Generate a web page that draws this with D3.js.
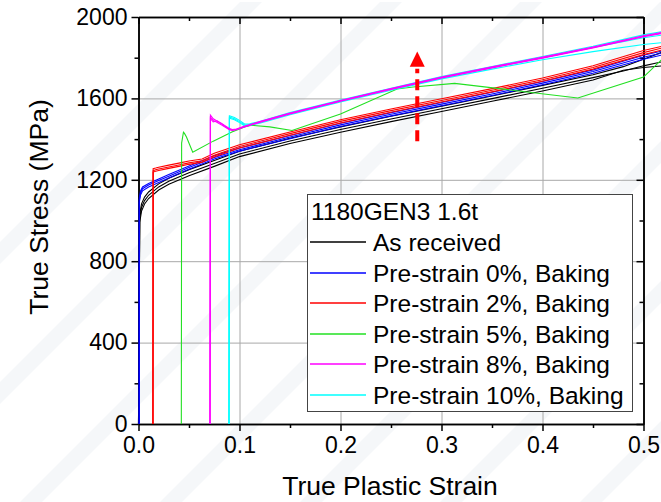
<!DOCTYPE html>
<html>
<head>
<meta charset="utf-8">
<script src="https://cdn.jsdelivr.net/npm/d3@7"></script>
<style>
  body { margin: 0; background: #fff; }
  svg { display: block; font-family: "Liberation Sans", Arial, sans-serif; }
  .grid line { stroke: #a8a8a8; stroke-width: 1; }
  .grid path { display: none; }
  .axis path, .axis line { stroke: #000; stroke-width: 1.5; }
  .axis text { fill: #000; }
</style>
</head>
<body>
<svg width="661" height="502"></svg>
<script>
// tick values
const xTicks = [0, 0.1, 0.2, 0.3, 0.4, 0.5];
const xMinor = [0.05, 0.15, 0.25, 0.35, 0.45];
const yTicks = [0, 400, 800, 1200, 1600, 2000];
const yMinor = [200, 600, 1000, 1400, 1800];

// As received (black)
const blackStrain = [0, 0.0012, 0.003, 0.006, 0.01, 0.02, 0.03, 0.05, 0.075, 0.1, 0.15, 0.2, 0.25, 0.3, 0.35, 0.4, 0.45, 0.48, 0.5, 0.52];
const black1 = [0, 1030, 1082, 1115, 1140, 1180, 1208, 1250, 1295, 1340, 1404, 1460, 1512, 1562, 1612, 1664, 1716, 1756, 1792, 1830];
const black2 = [0, 1010, 1064, 1098, 1124, 1165, 1193, 1235, 1280, 1327, 1391, 1447, 1499, 1549, 1599, 1650, 1702, 1735, 1760, 1782];
const black3 = [0, 990, 1046, 1081, 1108, 1150, 1178, 1220, 1266, 1314, 1378, 1434, 1486, 1536, 1586, 1636, 1690, 1738, 1752, 1760];

// Pre-strain 0%, Baking (blue)
const blueStrain = [0.0007, 0.0008, 0.002, 0.004, 0.01, 0.02, 0.03, 0.05, 0.075, 0.1, 0.15, 0.2, 0.25, 0.3, 0.35, 0.4, 0.45, 0.5, 0.52];
const blue1 = [0, 1110, 1145, 1165, 1182, 1204, 1226, 1268, 1318, 1356, 1418, 1478, 1530, 1580, 1630, 1683, 1740, 1812, 1835];
const blue2 = [0, 1100, 1135, 1156, 1174, 1196, 1218, 1260, 1310, 1348, 1410, 1470, 1522, 1572, 1622, 1675, 1732, 1802, 1825];
const blue3 = [0, 1090, 1125, 1146, 1165, 1187, 1209, 1252, 1302, 1341, 1402, 1462, 1514, 1564, 1614, 1667, 1724, 1792, 1815];

// Pre-strain 2%, Baking (red)
const redStrain = [0.0143, 0.0145, 0.017, 0.02, 0.03, 0.04, 0.05, 0.063, 0.075, 0.1, 0.15, 0.2, 0.25, 0.3, 0.35, 0.4, 0.45, 0.5, 0.52];
const red1 = [0, 1255, 1258, 1262, 1272, 1282, 1292, 1302, 1330, 1372, 1435, 1495, 1548, 1598, 1648, 1700, 1760, 1835, 1858];
const red2 = [0, 1245, 1249, 1253, 1263, 1273, 1283, 1294, 1320, 1364, 1427, 1487, 1540, 1590, 1640, 1692, 1752, 1825, 1850];
const red3 = [0, 1238, 1242, 1246, 1256, 1266, 1276, 1287, 1312, 1356, 1419, 1479, 1532, 1582, 1632, 1684, 1744, 1815, 1840];

// Pre-strain 5%, Baking (green)
const greenStrain = [0.0424, 0.0427, 0.0445, 0.0455, 0.0475, 0.0537, 0.074, 0.0925, 0.105, 0.112, 0.13, 0.152, 0.2, 0.256, 0.272, 0.313, 0.435, 0.5, 0.52];
const green1 = [0, 1380, 1434, 1428, 1410, 1335, 1390, 1435, 1460, 1468, 1460, 1442, 1523, 1646, 1656, 1674, 1602, 1705, 1800];

// Pre-strain 8%, Baking (magenta)
const magentaStrain = [0.0708, 0.0712, 0.074, 0.078, 0.082, 0.086, 0.09, 0.093, 0.097, 0.104, 0.12, 0.15, 0.2, 0.25, 0.3, 0.35, 0.4, 0.45, 0.5, 0.52];
const magenta1 = [0, 1518, 1500, 1488, 1478, 1465, 1452, 1447, 1450, 1462, 1486, 1528, 1590, 1648, 1705, 1755, 1803, 1853, 1908, 1926];
const magenta2 = [0, 1508, 1492, 1482, 1470, 1458, 1446, 1442, 1446, 1458, 1482, 1524, 1586, 1644, 1700, 1750, 1798, 1848, 1903, 1920];
const magenta3 = [0, 1500, 1485, 1490, 1475, 1462, 1449, 1444, 1448, 1460, 1484, 1526, 1588, 1646, 1702, 1752, 1800, 1850, 1905, 1923];

// Pre-strain 10%, Baking (cyan)
const cyanStrain = [0.0896, 0.09, 0.095, 0.1, 0.105, 0.11, 0.12, 0.15, 0.2, 0.25, 0.3, 0.35, 0.4, 0.45, 0.5, 0.52];
const cyan1 = [0, 1515, 1506, 1492, 1474, 1475, 1486, 1530, 1592, 1650, 1707, 1757, 1806, 1856, 1912, 1930];
const cyan2 = [0, 1508, 1500, 1486, 1469, 1471, 1482, 1525, 1587, 1645, 1702, 1752, 1800, 1850, 1898, 1912];
const cyan3 = [0, 1502, 1495, 1481, 1465, 1467, 1478, 1520, 1582, 1640, 1696, 1744, 1790, 1830, 1865, 1875];

// dashed arrow (strain, stress from -> head base -> tip)
const arrowStrain = 0.276;
const arrowStress = [1390, 1755, 1830];

const series = [
  { name: 'As received', color: '#000000', strain: blackStrain, runs: [black3, black2, black1] },
  { name: 'Pre-strain 0%, Baking', color: '#0000ff', strain: blueStrain, runs: [blue3, blue2, blue1] },
  { name: 'Pre-strain 2%, Baking', color: '#ff0000', strain: redStrain, runs: [red3, red2, red1] },
  { name: 'Pre-strain 5%, Baking', color: '#22e022', strain: greenStrain, runs: [green1] },
  { name: 'Pre-strain 10%, Baking', color: '#00ffff', strain: cyanStrain, runs: [cyan3, cyan2, cyan1] },
  { name: 'Pre-strain 8%, Baking', color: '#ff00ff', strain: magentaStrain, runs: [magenta3, magenta2, magenta1] }
];
const legendOrder = ['As received', 'Pre-strain 0%, Baking', 'Pre-strain 2%, Baking',
  'Pre-strain 5%, Baking', 'Pre-strain 8%, Baking', 'Pre-strain 10%, Baking'];

const svg = d3.select('svg');

// faint diagonal watermark stripes in the background
const stripes = svg.append('g').attr('fill', '#eef1f5');
[-260, -120, 20, 160, 300, 440, 580].forEach(function (o) {
  stripes.append('polygon')
    .attr('points', `${o},502 ${o + 22},502 ${o + 522},2 ${o + 500},2`)
    .attr('opacity', 0.6);
});

const x = d3.scaleLinear().domain([0, 0.5]).range([138.5, 643.5]);
const y = d3.scaleLinear().domain([0, 2000]).range([424, 17]);

// grid
svg.append('g').attr('class', 'grid')
  .attr('transform', 'translate(0,424)')
  .call(d3.axisBottom(x).tickValues([0.1, 0.2, 0.3, 0.4]).tickSize(-407).tickFormat(''));
svg.append('g').attr('class', 'grid')
  .attr('transform', 'translate(138.5,0)')
  .call(d3.axisLeft(y).tickValues([400, 800, 1200, 1600]).tickSize(-505).tickFormat(''));

// axes
function minor(g) { g.selectAll('text').remove(); }
svg.append('g').attr('class', 'axis').attr('transform', 'translate(0,424)')
  .call(d3.axisBottom(x).tickValues(xTicks).tickSize(7).tickSizeOuter(0).tickPadding(6).tickFormat(d3.format('.1f')))
  .call(g => g.selectAll('text').attr('font-size', 23).attr('font-family', null));
svg.append('g').attr('class', 'axis').attr('transform', 'translate(0,424)')
  .call(d3.axisBottom(x).tickValues(xMinor).tickSize(4).tickSizeOuter(0)).call(minor);
svg.append('g').attr('class', 'axis').attr('transform', 'translate(138.5,0)')
  .call(d3.axisLeft(y).tickValues(yTicks).tickSize(7).tickSizeOuter(0).tickPadding(4).tickFormat(d3.format('d')))
  .call(g => g.selectAll('text').attr('font-size', 23).attr('font-family', null));
svg.append('g').attr('class', 'axis').attr('transform', 'translate(138.5,0)')
  .call(d3.axisLeft(y).tickValues(yMinor).tickSize(4).tickSizeOuter(0)).call(minor);
svg.append('g').attr('class', 'axis').attr('transform', 'translate(0,17)')
  .call(d3.axisTop(x).tickValues(xTicks).tickSize(-7).tickSizeOuter(0)).call(minor);
svg.append('g').attr('class', 'axis').attr('transform', 'translate(0,17)')
  .call(d3.axisTop(x).tickValues(xMinor).tickSize(-4).tickSizeOuter(0)).call(minor);
svg.append('g').attr('class', 'axis').attr('transform', 'translate(643.5,0)')
  .call(d3.axisRight(y).tickValues(yTicks).tickSize(-7).tickSizeOuter(0)).call(minor);
svg.append('g').attr('class', 'axis').attr('transform', 'translate(643.5,0)')
  .call(d3.axisRight(y).tickValues(yMinor).tickSize(-4).tickSizeOuter(0)).call(minor);

// curves (drawn over the frame, like the original)
const line = d3.line().x(d => x(d[0])).y(d => y(d[1]));
series.forEach(function (s) {
  s.runs.forEach(function (run) {
    svg.append('path')
      .datum(s.strain.map((e, i) => [e, run[i]]))
      .attr('fill', 'none')
      .attr('stroke', s.color)
      .attr('stroke-width', 1.1)
      .attr('d', line);
  });
});

// axis titles
svg.append('text')
  .attr('x', 390).attr('y', 495)
  .attr('text-anchor', 'middle').attr('font-size', 26.5)
  .text('True Plastic Strain');
svg.append('text')
  .attr('transform', 'translate(48,207) rotate(-90)')
  .attr('text-anchor', 'middle').attr('font-size', 26.5)
  .text('True Stress (MPa)');

// red dashed arrow
svg.append('line')
  .attr('x1', x(arrowStrain)).attr('x2', x(arrowStrain))
  .attr('y1', y(arrowStress[0])).attr('y2', y(arrowStress[1]) + 2)
  .attr('stroke', '#ff0000').attr('stroke-width', 4)
  .attr('stroke-dasharray', '11,6');
svg.append('polygon')
  .attr('points', [
    [x(arrowStrain), y(arrowStress[2])],
    [x(arrowStrain) - 7.5, y(arrowStress[1])],
    [x(arrowStrain) + 7.5, y(arrowStress[1])]
  ].map(p => p.join(',')).join(' '))
  .attr('fill', '#ff0000');

// legend
const legend = svg.append('g').attr('transform', 'translate(307,194)');
legend.append('rect')
  .attr('x', 0.5).attr('y', 0.5)
  .attr('width', 325).attr('height', 217)
  .attr('fill', '#fff').attr('stroke', '#444').attr('stroke-width', 1);
legend.append('text')
  .attr('x', 4).attr('y', 26).attr('font-size', 24.5)
  .text('1180GEN3 1.6t');
legendOrder.forEach(function (name, i) {
  const s = series.find(d => d.name === name);
  const ly = Math.round(48 + i * 30.5);
  legend.append('line')
    .attr('x1', 3).attr('x2', 59).attr('y1', ly).attr('y2', ly)
    .attr('stroke', s.color).attr('stroke-width', 1.4);
  legend.append('text')
    .attr('x', 66).attr('y', ly + 8.5).attr('font-size', 24.5)
    .text(name);
});
</script>
</body>
</html>
